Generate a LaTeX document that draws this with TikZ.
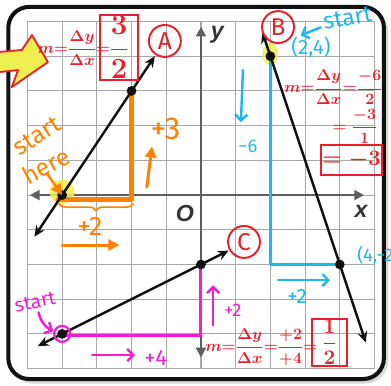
\RequirePackage{fix-cm}
\documentclass[tikz,border=0pt]{standalone}
\usepackage{amsmath}
\usepackage{fontspec}
\setsansfont{Liberation Sans}
\newfontfamily\handfont{Fira Sans}
\usetikzlibrary{arrows.meta, decorations.pathreplacing, calc}
\definecolor{ink}{HTML}{111111}
\definecolor{gridc}{HTML}{A8A8A8}
\definecolor{axisc}{HTML}{5E5E5E}
\definecolor{penred}{HTML}{E8202A}
\definecolor{penorange}{HTML}{FF8200}
\definecolor{penblue}{HTML}{1FB8EE}
\definecolor{penpink}{HTML}{F01ED6}
\definecolor{hilite}{HTML}{EEEE50}
\tikzset{
  >={Stealth[length=7pt, width=6pt]},
  %
  gridline/.style={draw=gridc, line width=0.9pt},
  axisline/.style={draw=axisc, line width=2.2pt,
    {Triangle[length=8pt, width=8pt]}-{Triangle[length=8pt, width=8pt]}},
  graphline/.style={draw=ink, line width=2pt,
    {Stealth[length=9pt, width=8pt]}-{Stealth[length=9pt, width=8pt]}},
  axlbl/.style={font=\sffamily\bfseries\itshape\fontsize{19}{19}\selectfont,
    text=ink!85, inner sep=0pt},
  ptdot/.style={circle, fill=ink, inner sep=0pt, minimum size=8pt},
  ring/.style={circle, draw=penpink, line width=1.8pt, inner sep=0pt,
    minimum size=0.46cm},
  %
  pen/.style={line width=2.5pt, line cap=round, line join=round},
  penarrow/.style={pen, -{Triangle[length=9pt, width=9pt]}},
  barbarrow/.style={pen, line width=2pt, -{Straight Barb[length=5pt, width=10pt]}},
  hand/.style={font=\handfont\fontsize{#1}{#1}\selectfont, inner sep=0pt},
  hand/.default=18,
  circ/.style={circle, draw=penred, line width=1.6pt, text=penred,
    minimum size=0.92cm, inner sep=0pt, font=\handfont\fontsize{20}{20}\selectfont},
  redmath/.style={text=penred, inner sep=0pt,
    font=\fontsize{13}{15}\selectfont\boldmath},
  redbox/.style={draw=penred, line width=1.6pt, text=penred, inner sep=1pt},
}

\begin{document}
\begin{tikzpicture}[x=1cm, y=1cm]
  \useasboundingbox (-5.79,-5.475) rectangle (5.475,5.62);

  % sheet
  \draw[draw=gray!30, line width=3pt, rounded corners=18pt]
    (-5.47,-5.38) rectangle (5.35,5.34);
  \draw[draw=ink, fill=white, line width=3.3pt, rounded corners=17pt]
    (-5.55,-5.3) rectangle (5.27,5.42);

  % grid
  \foreach \k in {-5,...,5} {
    \draw[gridline] (\k,-5) -- (\k,5);
    \draw[gridline] (-5,\k) -- (5,\k);
  }

  % axes
  \coordinate (xl) at (-4.93,0); \coordinate (xr) at (4.7,0);
  \coordinate (yb) at (0,-4.68); \coordinate (yt) at (0,4.85);
  \draw[axisline] (xl) -- (xr);
  \draw[axisline] (yb) -- (yt);
  \node[axlbl] (xlab) at (4.61,-0.46) {x};
  \node[axlbl] (ylab) at (0.47,4.63) {y};
  \node[axlbl] (olab) at (-0.46,-0.52) {O};

  % highlighter
  \fill[hilite, opacity=0.85] (-4.0,0.09) circle (0.36);
  \fill[hilite, opacity=0.85] (2,4.06) ellipse (0.23 and 0.33);
  \draw[penred, fill=hilite, line width=1.5pt, line join=round]
    (-5.85,4.12) -- (-5.16,4.18) -- (-4.87,4.61) -- (-4.41,3.83)
    -- (-5.45,3.11) -- (-5.27,3.6) -- (-5.85,3.54);

  % points on the lines
  \coordinate (a0) at (-4,0);   \coordinate (a1) at (-2,3);
  \coordinate (b0) at (2,4);    \coordinate (b1) at (4,-2);
  \coordinate (c0) at (-4,-4);  \coordinate (c1) at (0,-2);
  \coordinate (alo) at (-4.8,-1.2);   \coordinate (ahi) at (-1.33,4.0);
  \coordinate (bhi) at (1.77,4.69);   \coordinate (blo) at (4.75,-4.25);
  \coordinate (clo) at (-4.7,-4.35);  \coordinate (chi) at (0.8,-1.6);

  % rise and run
  \coordinate (a2) at (-1.97,-0.12); \coordinate (a3) at (-4.12,-0.12);
  \draw[pen, penorange, line width=4pt] (a1) -- (a1 |- a2) -- (a3);
  \draw[pen, penblue] (b0) -- (b0 |- b1) -- (b1);
  \coordinate (c2) at (-4,-4.05);
  \draw[pen, penpink] (c1) -- (c1 |- c2) -- (c2);

  % the three lines
  \draw[graphline] (alo) -- (ahi);
  \draw[graphline] (bhi) -- (blo);
  \draw[graphline] (clo) -- (chi);
  \foreach \p in {a0,a1,b0,b1,c0,c1}
    \node[ptdot] (d\p) at (\p) {};
  \node[ring] (c0ring) at (c0) {};

  % line A, orange
  \node[hand=26, text=penorange] (riseA) at (-1.02,1.9) {+3};
  \coordinate (upA0) at (-1.56,0.23); \coordinate (upA1) at (-1.41,1.4);
  \draw[penarrow, penorange] (upA0) -- (upA1);
  \draw[penorange, line width=1.3pt, decorate,
    decoration={brace, mirror, amplitude=6pt}] (-4.1,-0.24) -- (-1.95,-0.24);
  \node[hand=22, text=penorange] (runA) at (-3.2,-0.89) {+2};
  \coordinate (rtA0) at (-4.0,-1.44); \coordinate (rtA1) at (-2.35,-1.44);
  \draw[penarrow, penorange] (rtA0) -- (rtA1);
  \node[hand=20, text=penorange, rotate=33] (startA) at (-4.72,1.7) {start};
  \node[hand=20, text=penorange, rotate=28] (hereA) at (-4.47,0.84) {here};
  \coordinate (toA) at (-4.45,0.64);
  \draw[penarrow, penorange, line width=2pt] (toA) -- (a0);

  % line B, blue
  \node[hand=19, text=penblue, rotate=10] (startB) at (4.22,5.1) {start};
  \coordinate (toB0) at (3.45,4.83); \coordinate (toB1) at (2.87,4.6);
  \draw[barbarrow, penblue] (toB0) -- (toB1);
  \node[hand=17, text=penblue] (ptB0) at (3.17,4.24) {(2,4)};
  \coordinate (dnB0) at (1.21,3.6); \coordinate (dnB1) at (1.15,2.1);
  \draw[barbarrow, penblue] (dnB0) -- (dnB1);
  \node[hand=15, text=penblue] (riseB) at (1.35,1.41) {−6};
  \node[hand=15, text=penblue, anchor=west] (ptB1) at (4.5,-1.73) {(4,−2)};
  \coordinate (rtB0) at (2.22,-2.45); \coordinate (rtB1) at (3.72,-2.45);
  \draw[barbarrow, penblue] (rtB0) -- (rtB1);
  \node[hand=17, text=penblue] (runB) at (2.77,-2.91) {+2};

  % line C, magenta
  \node[hand=16, text=penpink, rotate=12] (startC) at (-4.78,-3.08) {start};
  \coordinate (toC) at (-4.68,-3.38);
  \draw[barbarrow, penpink] (toC) to[bend right=25] (c0ring);
  \coordinate (rtC0) at (-3.14,-4.61); \coordinate (rtC1) at (-1.9,-4.61);
  \draw[barbarrow, penpink] (rtC0) -- (rtC1);
  \node[hand=18, text=penpink] (runC) at (-1.3,-4.7) {+4};
  \coordinate (upC0) at (0.35,-3.75); \coordinate (upC1) at (0.35,-2.6);
  \draw[barbarrow, penpink] (upC0) -- (upC1);
  \node[hand=15, text=penpink] (riseC) at (0.92,-3.31) {+2};

  % labels and slopes, red
  \node[circ] (tagA) at (-1.04,4.44) {A};
  \node[circ] (tagB) at (2.22,4.84) {B};
  \node[circ] (tagC) at (1.24,-1.35) {C};

  \node[redmath] (mA) at (-3.66,4.24) {$m{=}\dfrac{\Delta y}{\Delta x}{=}$};
  \node[redbox, minimum width=1.1cm, minimum height=1.58cm,
    font=\fontsize{24}{26}\selectfont\boldmath] (slopeA) at (-2.36,4.25)
    {$\dfrac{3}{2}$};

  \node[redmath] (mB) at (3.82,3.1) {$m{=}\dfrac{\Delta y}{\Delta x}{=}\dfrac{-6}{2}$};
  \node[redmath] (eqB) at (4.44,1.99) {$=\dfrac{-3}{1}$};
  \node[redbox, minimum width=1.35cm, minimum height=0.86cm,
    font=\fontsize{18}{20}\selectfont\boldmath] (slopeB) at (4.34,1.01) {$=-3$};

  \node[redmath] (mC) at (1.74,-4.38)
    {$m{=}\dfrac{\Delta y}{\Delta x}{=}\dfrac{+2}{+4}{=}$};
  \node[redbox, minimum width=1.0cm, minimum height=1.15cm,
    font=\fontsize{17}{19}\selectfont\boldmath] (slopeC) at (3.7,-4.24)
    {$\dfrac{1}{2}$};

\end{tikzpicture}
\end{document}
